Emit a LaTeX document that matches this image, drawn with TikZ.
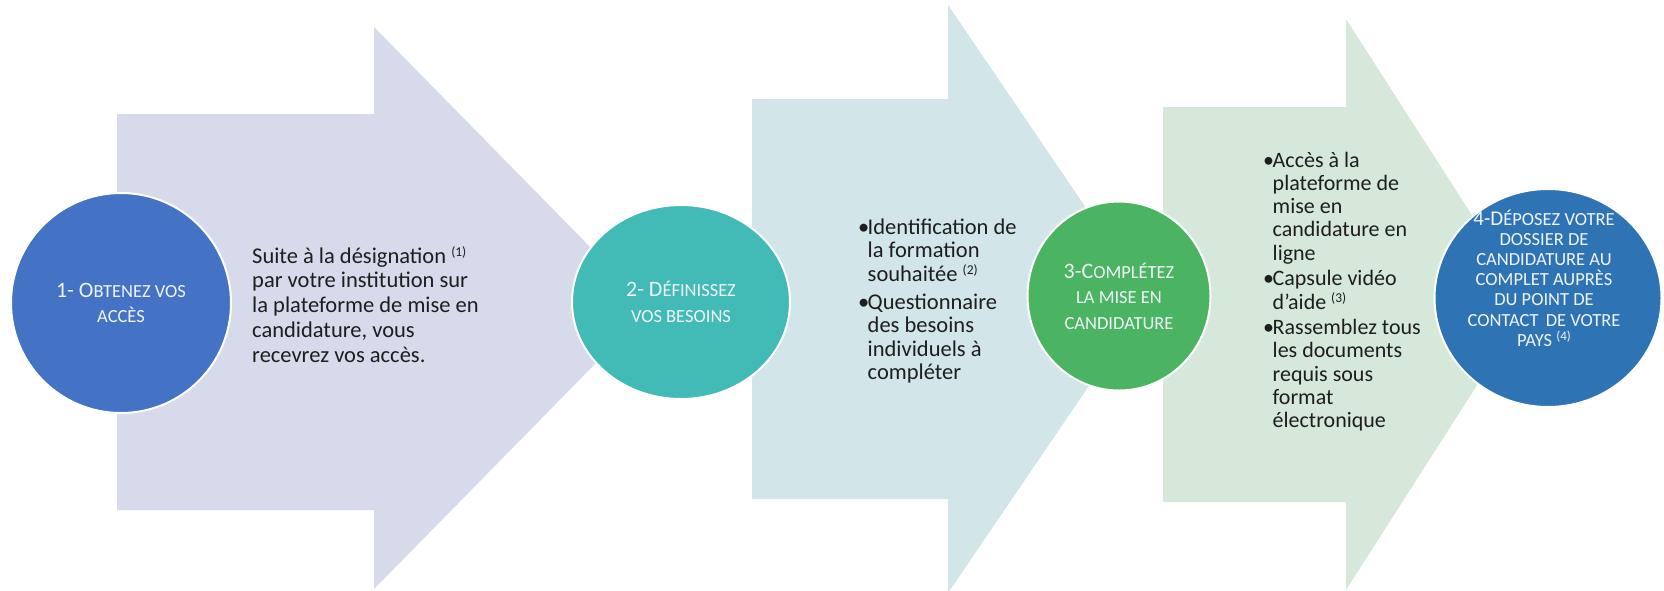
\documentclass[tikz,border=0pt]{standalone}
\usepackage{fontspec}
\setmainfont{Carlito}
\usetikzlibrary{shapes.geometric}
\definecolor{arA}{RGB}{214,218,235}
\definecolor{arB}{RGB}{210,229,232}
\definecolor{arC}{RGB}{213,232,218}
\definecolor{ciA}{RGB}{68,114,196}
\definecolor{ciB}{RGB}{66,186,181}
\definecolor{ciC}{RGB}{74,180,98}
\definecolor{ciD}{RGB}{46,116,181}
\definecolor{txt}{RGB}{30,30,30}
\definecolor{ctxt}{RGB}{240,244,248}
\newcommand\scA[1]{{\fontsize{18.5}{25.5}\selectfont #1}}
\newcommand\scB[1]{{\fontsize{18.5}{20.2}\selectfont #1}}
\newcommand\supA[1]{{\fontsize{13.5}{13}\selectfont\raisebox{7pt}{(#1)}}}
\newcommand\supB[1]{{\fontsize{13}{11}\selectfont\raisebox{6pt}{(#1)}}}
\newcommand\bul{\makebox[9.5pt][l]{•}}
\begin{document}
\begin{tikzpicture}[x=1pt,y=-1pt,
  stepdisc/.style={ellipse, draw=white, line width=2pt, inner sep=0pt},
  disctext/.style={text=ctxt, align=center, font=\fontsize{22}{25.5}\selectfont},
  disctextsmall/.style={text=ctxt, align=center, font=\fontsize{21}{20.2}\selectfont},
  bodytext/.style={text=txt, inner sep=0pt, anchor=base west}]
\useasboundingbox (0,0) rectangle (1664,590);
% arrows
\fill[arA] (117,114) -- (374,114) -- (374,27) -- (650,308) -- (374,589) -- (374,510) -- (117,510) -- cycle;
\fill[arB] (752,99) -- (948,99) -- (948,5) -- (1148,299) -- (948,593) -- (948,499) -- (752,499) -- cycle;
\fill[arC] (1163,107) -- (1346,107) -- (1346,19) -- (1529,304) -- (1346,590) -- (1346,502) -- (1163,502) -- cycle;
% discs
\node[stepdisc, fill=ciA, minimum width=220pt, minimum height=220pt] (c1) at (121,303) {};
\node[stepdisc, fill=ciB, minimum width=218pt, minimum height=194pt] (c2) at (681,302) {};
\node[stepdisc, fill=ciC, minimum width=183pt, minimum height=189pt] (c3) at (1119,296) {};
\node[stepdisc, fill=ciD, minimum width=227pt, minimum height=218pt] (c4) at (1548,298) {};
% disc labels
\node[disctext] (l1) at (c1.center) {1- O\scA{BTENEZ VOS}\\\scA{ACCÈS}};
\node[disctext] (l2) at (c2.center) {2- D\scA{ÉFINISSEZ}\\\scA{VOS BESOINS}};
\node[disctext] (l3) at (c3.center) {3-C\scA{OMPLÉTEZ}\\\scA{LA MISE EN}\\\scA{CANDIDATURE}};
\node[disctextsmall] (l4) at ([yshift=20pt,xshift=-4pt]c4.center) {4-D\scB{ÉPOSEZ VOTRE}\\\scB{DOSSIER DE}\\\scB{CANDIDATURE AU}\\\scB{COMPLET AUPRÈS}\\\scB{DU POINT DE}\\\scB{CONTACT\, DE VOTRE}\\\scB{PAYS \supB{4}}};
% body texts
\node[bodytext, font=\fontsize{22.5}{24.8}\selectfont] (t1) at (252,263)
 {\begin{tabular}[t]{@{}l@{}}Suite à la désignation \supA{1}\\par votre institution sur\\la plateforme de mise en\\candidature, vous\\recevrez vos accès.\end{tabular}};
\node[bodytext, font=\fontsize{22.5}{23.6}\selectfont] (t2) at (858,234)
 {\begin{tabular}[t]{@{}l@{}l@{}}\bul&Identification de\\&la formation\\&souhaitée \supA{2}\\[4pt]\bul&Questionnaire\\&des besoins\\&individuels à\\&compléter\end{tabular}};
\node[bodytext, font=\fontsize{22}{23.3}\selectfont] (t3) at (1263,167)
 {\begin{tabular}[t]{@{}l@{}l@{}}\bul&Accès à la\\&plateforme de\\&mise en\\&candidature en\\&ligne\\[2pt]\bul&Capsule vidéo\\&d’aide \supA{3}\\[2pt]\bul&Rassemblez tous\\&les documents\\&requis sous\\&format\\&électronique\end{tabular}};
\end{tikzpicture}
\end{document}
